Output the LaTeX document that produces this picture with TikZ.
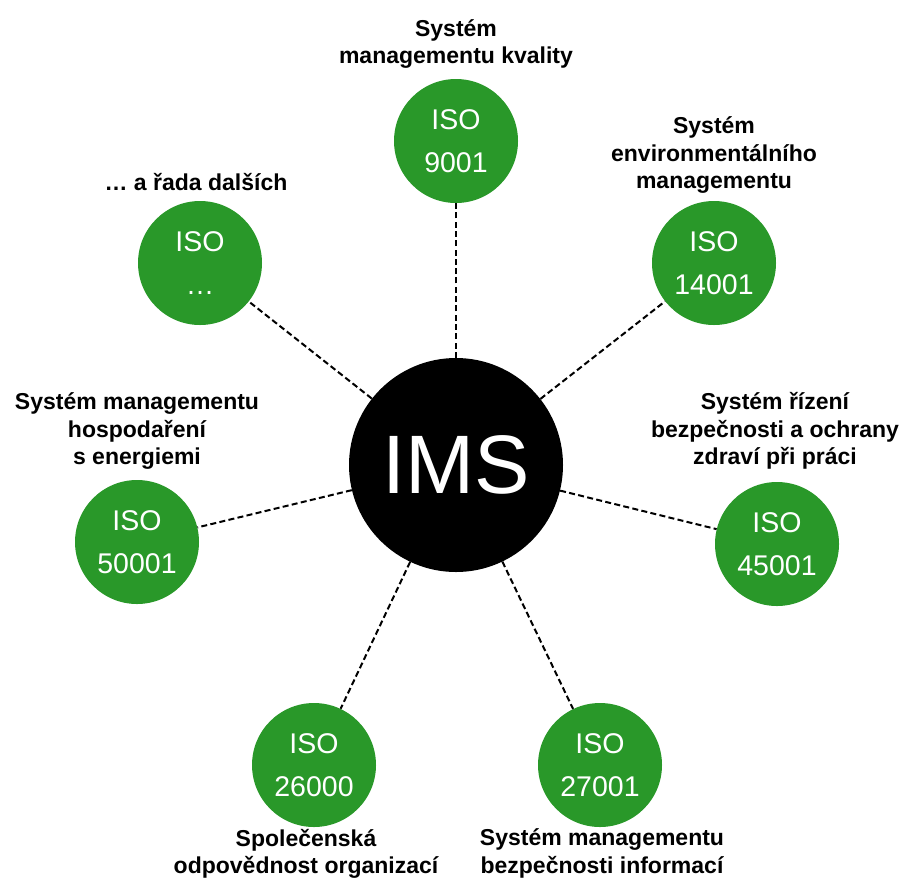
\documentclass[tikz,border=0pt]{standalone}
\usepackage{fontspec}
\setmainfont{Liberation Sans}
\usetikzlibrary{positioning}

\definecolor{isogreen}{RGB}{41,152,41}

\tikzset{
  ims/.style={circle, fill=black, minimum size=214pt, inner sep=0pt,
    text=white, font=\fontsize{83}{90}\selectfont},
  iso/.style={circle, fill=isogreen, minimum size=124pt, inner sep=0pt,
    text=white, align=center, font=\fontsize{28.5}{43}\selectfont},
  lbl/.style={align=center, inner sep=0pt,
    font=\bfseries\fontsize{23}{27.5}\selectfont},
  conn/.style={line width=2pt, dash pattern=on 6pt off 3.3pt}
}

\begin{document}
\begin{tikzpicture}[x=1pt, y=-1pt]
    \useasboundingbox (0,0) rectangle (904,879);

    % centre
    \node[ims] (ims) at (456,465) {IMS};

    % standards round the centre
    \node[iso] (iso9001)  at (456,141) {ISO\\9001};
    \node[iso] (iso14001) at (714,263) {ISO\\14001};
    \node[iso] (iso45001) at (777,544) {ISO\\45001};
    \node[iso] (iso27001) at (600,765) {ISO\\27001};
    \node[iso] (iso26000) at (314,765) {ISO\\26000};
    \node[iso] (iso50001) at (137,542) {ISO\\50001};
    \node[iso] (isoetc)   at (200,263) {ISO\\…};

    % what each standard is about
    \node[lbl, above=10pt of iso9001] (txt9001) {Systém\\managementu kvality};
    \node[lbl, above=7pt of iso14001] (txt14001) {Systém\\environmentálního\\managementu};
    \node[lbl, above=12pt of iso45001, xshift=-2pt] (txt45001) {Systém řízení\\bezpečnosti a ochrany\\zdraví při práci};
    \node[lbl, below=1.5pt of iso27001, xshift=2pt] (txt27001) {Systém managementu\\bezpečnosti informací};
    \node[lbl, below=1.5pt of iso26000, xshift=-8pt] (txt26000) {Společenská\\odpovědnost organizací};
    \node[lbl, above=10pt of iso50001] (txt50001) {Systém managementu\\hospodaření\\s energiemi};
    \node[lbl, above=10pt of isoetc, xshift=-4pt] (txtetc) {… a řada dalších};

    % dashed links to the centre
    \foreach \s in {iso9001,iso14001,iso45001,iso27001,iso26000,iso50001,isoetc}
      \draw[conn] (ims) -- (\s);
\end{tikzpicture}
\end{document}
